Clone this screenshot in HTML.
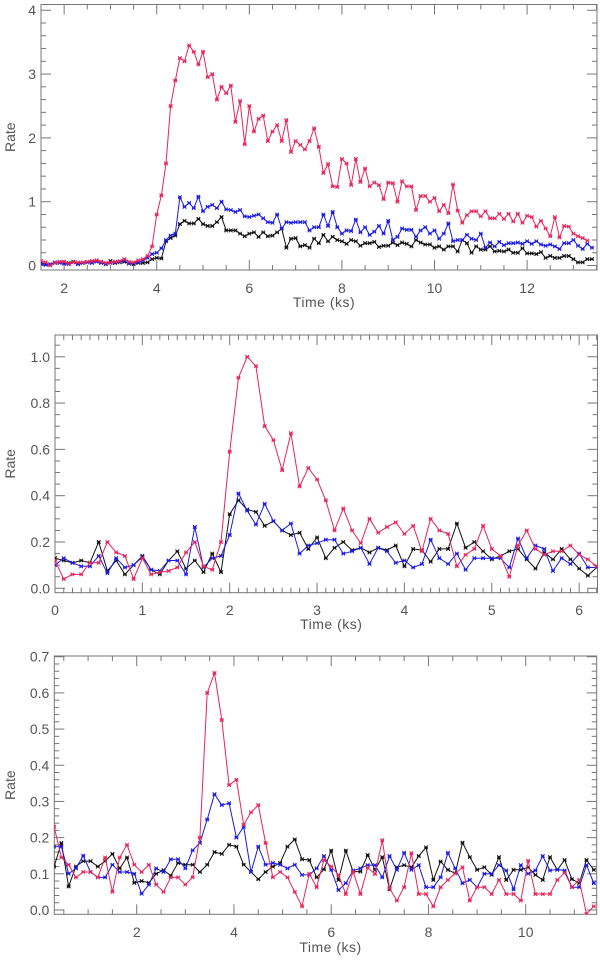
<!DOCTYPE html>
<html><head><meta charset="utf-8"><style>
html,body{margin:0;padding:0;background:#fff;width:600px;height:961px;overflow:hidden}
svg{display:block}
text{font-family:"Liberation Sans",sans-serif;fill:#555}
</style></head><body>
<svg id="chart" width="600" height="961" viewBox="0 0 600 961" xmlns="http://www.w3.org/2000/svg"></svg>
<script>
// ---- Panel 1 data (t0=1.5 ks, step 0.1 ks) ----
const p1Red = [0.07,0.05,0.0,0.04,0.06,0.06,0.03,0.05,0.05,0.05,0.06,0.07,0.08,0.06,0.04,0.05,0.06,0.07,0.1,0.06,0.05,0.08,0.1,
0.15,0.3,0.8,1.1,1.6,2.5,2.9,3.25,3.2,3.45,3.35,3.15,3.35,2.95,3.0,2.6,2.8,2.7,2.82,2.25,2.58,1.9,2.5,2.1,2.3,2.35,1.95,2.1,2.2,1.95,2.28,1.78,1.95,
1.89,1.82,1.95,2.15,1.86,1.45,1.59,1.24,1.23,1.67,1.6,1.26,1.67,1.31,1.52,1.24,1.30,1.26,1.04,1.3,1.29,1.0,1.32,1.24,1.24,0.87,1.09,1.09,1.0,1.06,0.85,0.95,0.82,1.27,0.86,0.67,0.79,0.85,0.85,0.77,0.85,0.74,0.74,0.81,0.73,0.81,0.69,0.81,0.67,0.78,0.76,0.61,0.7,0.58,0.46,0.76,0.44,0.62,0.61,0.5,0.46,0.43,0.39];
const p1Blue = [0.03,0.01,0.02,0.05,0.04,0.03,0.02,0.05,0.02,0.04,0.05,0.04,0.06,0.04,0.03,0.04,0.05,0.06,0.08,0.03,0.04,0.05,0.08,
0.12,0.18,0.2,0.27,0.4,0.47,0.5,1.07,0.92,0.98,0.9,1.08,0.85,0.92,0.95,0.9,1.0,0.88,0.87,0.84,0.87,0.77,0.76,0.78,0.8,0.74,0.68,0.67,0.8,0.58,0.68,0.67,0.68,
0.68,0.68,0.55,0.6,0.6,0.8,0.62,0.84,0.6,0.5,0.55,0.54,0.72,0.52,0.6,0.48,0.53,0.62,0.5,0.7,0.4,0.45,0.58,0.56,0.56,0.45,0.55,0.6,0.5,0.55,0.42,0.5,0.66,0.38,0.4,0.4,0.48,0.42,0.4,0.5,0.28,0.36,0.3,0.37,0.32,0.35,0.35,0.36,0.34,0.38,0.34,0.38,0.33,0.31,0.33,0.3,0.26,0.35,0.35,0.4,0.31,0.26,0.34,0.28];
const p1Black = [0.04,0.03,0.02,0.04,0.05,0.03,0.04,0.06,0.03,0.04,0.05,0.06,0.08,0.05,0.02,0.07,0.04,0.05,0.06,0.03,0.02,0.04,0.04,
0.05,0.1,0.12,0.11,0.38,0.43,0.47,0.65,0.7,0.66,0.66,0.73,0.65,0.62,0.62,0.68,0.76,0.55,0.55,0.55,0.5,0.46,0.5,0.52,0.45,0.52,0.46,0.47,0.52,0.58,0.28,0.42,0.43,
0.3,0.32,0.28,0.42,0.35,0.48,0.38,0.45,0.4,0.38,0.34,0.4,0.38,0.31,0.35,0.35,0.37,0.29,0.31,0.31,0.36,0.32,0.36,0.34,0.3,0.4,0.36,0.33,0.33,0.28,0.3,0.25,0.3,0.3,0.22,0.4,0.35,0.2,0.3,0.25,0.25,0.3,0.22,0.23,0.22,0.25,0.2,0.2,0.27,0.19,0.19,0.18,0.21,0.12,0.15,0.12,0.12,0.15,0.15,0.1,0.05,0.05,0.1,0.1];
const p1XTicks = ["2","4","6","8","10","12"];
const p1YTicks = ["0","1","2","3","4"];

// ---- Panel 2 data (t0=0 ks, step 0.1 ks) ----
const p2Red = [0.12,0.04,0.06,0.06,0.11,0.11,0.2,0.155,0.14,0.04,0.13,0.06,0.07,0.075,0.09,0.155,0.2,0.095,0.08,0.2,0.59,0.91,1.0,0.96,0.7,0.64,0.51,0.67,0.44,0.52,0.47,0.38,0.25,0.345,0.25,0.195,0.3,0.24,0.265,0.285,0.235,0.27,0.16,0.3,0.25,0.235,0.095,0.145,0.17,0.27,0.17,0.14,0.05,0.185,0.25,0.17,0.145,0.16,0.16,0.185,0.145,0.125,0.095];
const p2Blue = [0.1,0.13,0.11,0.095,0.095,0.14,0.065,0.13,0.09,0.1,0.135,0.08,0.075,0.12,0.12,0.06,0.265,0.09,0.13,0.14,0.23,0.41,0.335,0.275,0.365,0.29,0.25,0.28,0.15,0.185,0.195,0.21,0.21,0.15,0.16,0.175,0.105,0.175,0.16,0.11,0.12,0.09,0.105,0.21,0.13,0.105,0.15,0.08,0.13,0.13,0.13,0.13,0.09,0.215,0.13,0.185,0.17,0.075,0.13,0.105,0.15,0.09,0.09];
const p2Black = [0.13,0.12,0.11,0.12,0.11,0.2,0.075,0.12,0.06,0.1,0.14,0.08,0.06,0.12,0.16,0.085,0.12,0.07,0.15,0.07,0.32,0.38,0.34,0.33,0.27,0.29,0.25,0.23,0.24,0.17,0.22,0.13,0.175,0.2,0.165,0.175,0.155,0.175,0.165,0.185,0.095,0.17,0.165,0.115,0.17,0.17,0.28,0.175,0.2,0.16,0.125,0.14,0.16,0.17,0.125,0.085,0.155,0.125,0.17,0.125,0.085,0.055,0.09];
const p2XTicks = ["0","1","2","3","4","5","6"];
const p2YTicks = ["0.0","0.2","0.4","0.6","0.8","1.0"];

// ---- Panel 3 data (t0=0.3 ks, step 0.15 ks) ----
const p3Red = [0.23,0.145,0.125,0.09,0.105,0.105,0.09,0.145,0.05,0.145,0.18,0.125,0.105,0.125,0.07,0.05,0.09,0.09,0.07,0.09,0.2,0.6,0.655,0.525,0.345,0.36,0.235,0.27,0.29,0.185,0.09,0.105,0.09,0.05,
0.01,0.10,0.063,0.138,0.12,0.097,0.044,0.106,0.044,0.117,0.099,0.193,0.06,0.026,0.063,0.157,0.044,0.044,0.01,0.063,0.083,0.101,0.118,0.026,0.063,0.063,0.044,0.083,0.044,0.044,0.026,0.136,0.044,0.044,0.044,0.083,0.103,0.063,0.083,-0.011,0.01];
const p3Blue = [0.175,0.175,0.1,0.115,0.15,0.105,0.09,0.09,0.125,0.105,0.105,0.1,0.045,0.07,0.115,0.105,0.14,0.14,0.115,0.165,0.185,0.25,0.32,0.29,0.295,0.2,0.23,0.105,0.175,0.125,0.13,0.125,0.115,0.125,
0.097,0.097,0.115,0.149,0.111,0.055,0.074,0.109,0.115,0.124,0.124,0.09,0.149,0.111,0.158,0.111,0.124,0.063,0.063,0.09,0.158,0.115,0.074,0.083,0.063,0.1,0.1,0.124,0.109,0.057,0.124,0.1,0.109,0.149,0.109,0.112,0.109,0.063,0.063,0.124,0.074];
const p3Black = [0.12,0.185,0.065,0.12,0.135,0.135,0.12,0.135,0.155,0.115,0.145,0.075,0.08,0.075,0.1,0.11,0.095,0.13,0.125,0.125,0.105,0.125,0.16,0.155,0.18,0.175,0.125,0.105,0.085,0.105,0.12,0.13,0.175,0.195,
0.14,0.138,0.09,0.112,0.164,0.083,0.164,0.106,0.106,0.152,0.111,0.146,0.057,0.118,0.124,0.118,0.149,0.173,0.083,0.134,0.111,0.101,0.186,0.146,0.111,0.118,0.097,0.146,0.083,0.111,0.111,0.118,0.097,0.083,0.146,0.111,0.138,0.085,0.074,0.138,0.111];
const p3XTicks = ["2","4","6","8","10"];
const p3YTicks = ["0.0","0.1","0.2","0.3","0.4","0.5","0.6","0.7"];

const NS = "http://www.w3.org/2000/svg";
const svg = document.getElementById('chart');
const RED = "#e8245a", BLUE = "#1a1ae6", BLACK = "#111";

function mk(tag, attrs, parent){
  const e = document.createElementNS(NS, tag);
  for (const k in attrs) e.setAttribute(k, attrs[k]);
  (parent||svg).appendChild(e);
  return e;
}

function panel(cfg){
  const g = mk('g', {});
  
  
  const L=cfg.left, R=cfg.right, T=cfg.top, B=cfg.bottom;
  const xs = v => L + (v - cfg.xmin) / (cfg.xmax - cfg.xmin) * (R - L);
  const ys = v => B - (v - cfg.ymin) / (cfg.ymax - cfg.ymin) * (B - T);
  const clipId = cfg.name + '-clip';
  const defs = mk('defs', {}, g);
  const cp = mk('clipPath', {id: clipId}, defs);
  mk('rect', {x:L, y:T, width:R-L, height:B-T}, cp);

  const frame = mk('rect', {x:L, y:T, width:R-L, height:B-T, fill:'none', stroke:'#777', 'stroke-width':1}, g);
  
  

  // ticks
  const tg = mk('g', {stroke:'#777','stroke-width':1}, g);
  
  
  const eps=1e-6;
  for (let v = cfg.xminorStart; v <= cfg.xmax + eps; v += cfg.xminor){
    const isMaj = Math.abs(v/cfg.xmajor - Math.round(v/cfg.xmajor)) < 1e-4;
    const len = isMaj ? 10 : 5, x = xs(v);
    mk('line', {x1:x, y1:B, x2:x, y2:B-len}, tg);
    mk('line', {x1:x, y1:T, x2:x, y2:T+len}, tg);
  }
  for (let v = cfg.yminorStart; v <= cfg.ymax + eps; v += cfg.yminor){
    const isMaj = Math.abs(v/cfg.ymajor - Math.round(v/cfg.ymajor)) < 1e-4;
    const len = isMaj ? 10 : 5, y = ys(v);
    mk('line', {x1:L, y1:y, x2:L+len, y2:y}, tg);
    mk('line', {x1:R, y1:y, x2:R-len, y2:y}, tg);
  }
  // tick labels
  cfg.xTicks.forEach(lbl => {
    const t = mk('text', {x:xs(parseFloat(lbl)), y:cfg.xLabelY, 'text-anchor':'middle', 'font-size':14}, g);
    t.textContent = lbl;
    
    
  });
  cfg.yTicks.forEach(lbl => {
    const t = mk('text', {x:L-5, y:ys(parseFloat(lbl))+5, 'text-anchor':'end', 'font-size':14}, g);
    t.textContent = lbl;
    
    
  });
  const xt = mk('text', {x:(L+R)/2 + 5, y:cfg.xTitleY, 'text-anchor':'middle', 'font-size':14, 'letter-spacing':'0.5'}, g);
  xt.textContent = 'Time (ks)';
  
  
  const ty = (T+B)/2;
  const yt = mk('text', {x:15, y:ty, 'text-anchor':'middle', 'font-size':14, transform:`rotate(-90 15 ${ty})`}, g);
  yt.textContent = 'Rate';
  
  

  // series
  const sg = mk('g', {'clip-path':`url(#${clipId})`}, g);
  cfg.series.forEach(s => {
    const pts = s.data.map((v,i) => [xs(cfg.t0 + i*cfg.dt), ys(v)]);
    const line = mk('polyline', {points: pts.map(p=>p[0].toFixed(1)+','+p[1].toFixed(1)).join(' '), fill:'none', stroke:s.color, 'stroke-width':1}, sg);
    
    
    const mg = mk('g', {stroke:s.color, 'stroke-width':1}, sg);
    
    
    pts.forEach(p => {
      const d=1.8;
      mk('path', {d:`M${p[0]-d},${p[1]-d}L${p[0]+d},${p[1]+d}M${p[0]-d},${p[1]+d}L${p[0]+d},${p[1]-d}M${p[0]-d},${p[1]}L${p[0]+d},${p[1]}`}, mg);
    });
  });
}

panel({name:'panel-top', left:41, right:597, top:4.5, bottom:270,
  xmin:1.5, xmax:13.51, ymin:-0.07, ymax:4.09, t0:1.5, dt:0.1,
  xmajor:2, xminor:0.5, xminorStart:1.5, ymajor:1, yminor:0.2, yminorStart:0,
  xTicks:p1XTicks, yTicks:p1YTicks, xLabelY:293, xTitleY:307,
  series:[{name:'black-series',data:p1Black,color:BLACK},{name:'blue-series',data:p1Blue,color:BLUE},{name:'red-series',data:p1Red,color:RED}]});

panel({name:'panel-middle', left:55, right:597.5, top:335, bottom:592.7,
  xmin:0, xmax:6.21, ymin:-0.019, ymax:1.094, t0:0, dt:0.1,
  xmajor:1, xminor:0.1, xminorStart:0, ymajor:0.2, yminor:0.05, yminorStart:0,
  xTicks:p2XTicks, yTicks:p2YTicks, xLabelY:615, xTitleY:629,
  series:[{name:'black-series',data:p2Black,color:BLACK},{name:'blue-series',data:p2Blue,color:BLUE},{name:'red-series',data:p2Red,color:RED}]});

panel({name:'panel-bottom', left:54.3, right:596.7, top:656, bottom:914.3,
  xmin:0.305, xmax:11.46, ymin:-0.012, ymax:0.702, t0:0.3, dt:0.15,
  xmajor:2, xminor:0.5, xminorStart:0.5, ymajor:0.1, yminor:0.02, yminorStart:0,
  xTicks:p3XTicks, yTicks:p3YTicks, xLabelY:937, xTitleY:952,
  series:[{name:'black-series',data:p3Black,color:BLACK},{name:'blue-series',data:p3Blue,color:BLUE},{name:'red-series',data:p3Red,color:RED}]});
</script>
</body></html>
